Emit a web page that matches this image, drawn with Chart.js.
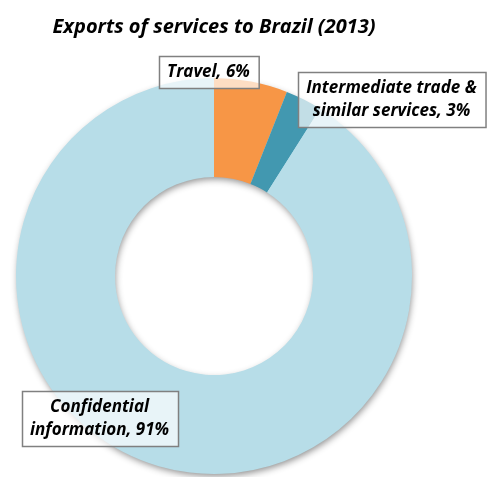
<!DOCTYPE html>
<html>
<head>
<meta charset="utf-8">
<script src="https://cdn.jsdelivr.net/npm/chart.js@4"></script>
<style>
  html, body { margin: 0; padding: 0; background: #fff; }
  .chart-container { width: 488px; height: 477px; position: relative; }
</style>
</head>
<body>
<div class="chart-container"><canvas id="servicesChart"></canvas></div>
<script>
const categories = ['Travel', 'Intermediate trade & similar services', 'Confidential information'];
const shares = [6, 3, 91];
const labelLines = [
    ['Travel, 6%'],
    ['Intermediate trade &', 'similar services, 3%'],
    ['Confidential', 'information, 91%']
];
const sliceColors = ['#F79646', '#4298B0', '#B7DDE8'];
// label box centres, relative to the doughnut centre in units of the outer radius
const labelOffsets = [[-0.028, -1.03], [0.896, -0.889], [-0.578, 0.722]];

const fontFamily = '"Open Sans", Lato, sans-serif';
const labelFont = 'italic bold 17px ' + fontFamily;

// soft drop shadow under the whole ring
const ringShadow = {
    id: 'ringShadow',
    beforeDatasetsDraw(chart) {
        const arc = chart.getDatasetMeta(0).data[0];
        if (!arc) return;
        const { x, y, outerRadius, innerRadius } = arc;
        const ctx = chart.ctx;
        ctx.save();
        ctx.shadowColor = 'rgba(0, 0, 0, 0.45)';
        ctx.shadowBlur = 7;
        ctx.shadowOffsetX = 1;
        ctx.shadowOffsetY = 3;
        ctx.beginPath();
        ctx.arc(x, y, outerRadius - 1, 0, Math.PI * 2);
        ctx.arc(x, y, innerRadius + 1, 0, Math.PI * 2, true);
        ctx.fillStyle = sliceColors[2];
        ctx.fill();
        ctx.restore();
    }
};

// boxed callout labels
const boxLabels = {
    id: 'boxLabels',
    afterDatasetsDraw(chart) {
        const arc = chart.getDatasetMeta(0).data[0];
        if (!arc) return;
        const { x, y, outerRadius } = arc;
        const ctx = chart.ctx;
        const lineH = 23;
        ctx.save();
        ctx.font = labelFont;
        labelLines.forEach((lines, i) => {
            const cx = x + labelOffsets[i][0] * outerRadius;
            const cy = y + labelOffsets[i][1] * outerRadius;
            const w = Math.max(...lines.map(l => ctx.measureText(l).width)) + 17;
            const h = lines.length * lineH + 9;
            const bx = Math.round(cx - w / 2) + 0.5;
            const by = Math.round(cy - h / 2) + 0.5;
            ctx.fillStyle = 'rgba(255, 255, 255, 0.68)';
            ctx.fillRect(bx, by, w, h);
            ctx.strokeStyle = '#808080';
            ctx.lineWidth = 1.5;
            ctx.strokeRect(bx, by, w, h);
            ctx.fillStyle = '#000';
            ctx.textAlign = 'center';
            ctx.textBaseline = 'middle';
            lines.forEach((l, j) => {
                ctx.fillText(l, cx, cy - (lines.length - 1) * lineH / 2 + j * lineH);
            });
        });
        ctx.restore();
    }
};

const ctx = document.getElementById('servicesChart').getContext('2d');
new Chart(ctx, {
    type: 'doughnut',
    data: {
        labels: categories,
        datasets: [{
            data: shares,
            backgroundColor: sliceColors,
            borderWidth: 0
        }]
    },
    options: {
        responsive: true,
        maintainAspectRatio: false,
        animation: false,
        cutout: '50%',
        layout: { padding: { top: 0, left: 16, right: 76, bottom: 3 } },
        plugins: {
            legend: { display: false },
            tooltip: { enabled: false },
            title: {
                display: true,
                text: 'Exports of services to Brazil (2013)',
                color: '#000',
                font: { family: fontFamily, size: 20, style: 'italic', weight: 'bold' },
                padding: { top: 15, bottom: 39 }
            }
        }
    },
    plugins: [ringShadow, boxLabels]
});
</script>
</body>
</html>
